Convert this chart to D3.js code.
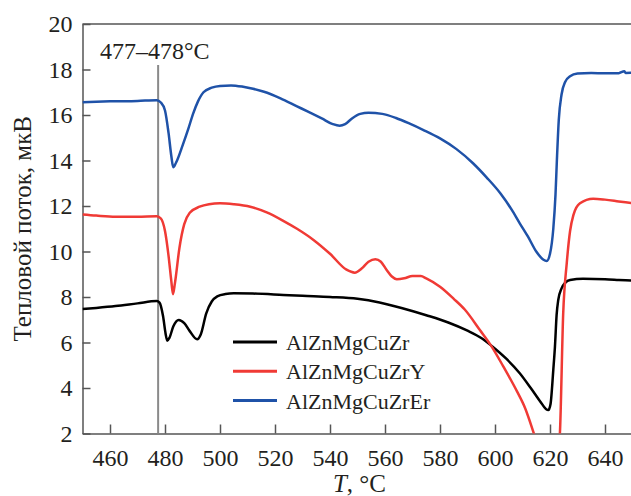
<!DOCTYPE html>
<html>
<head>
<meta charset="utf-8">
<script src="https://cdn.jsdelivr.net/npm/d3@7"></script>
<style>
  body { margin: 0; background: #fff; }
  svg { font-family: "Liberation Serif", "DejaVu Serif", serif; }
  .axis path, .axis line { stroke: #555; stroke-width: 1.5; }
  .axis text { fill: #231f20; font-size: 24px; font-family: "Liberation Serif", "DejaVu Serif", serif; }
</style>
</head>
<body>
<div id="chart"></div>
<script>
// series: [T, signal]
const seriesNames = ["AlZnMgCuZr", "AlZnMgCuZrY", "AlZnMgCuZrEr"];
const seriesColors = ["#000000", "#f03a35", "#1f52a8"];

const zr = [
  [450, 7.47], [455, 7.52], [462, 7.6], [470, 7.72], [477, 7.82], [478, 7.75],
  [479.3, 7.15], [480.2, 6.4], [480.8, 6.08], [481.6, 6.2], [483, 6.7], [485, 6.99],
  [487, 6.85], [489, 6.5], [491.7, 6.14], [493, 6.35], [495, 7.28], [497, 7.8],
  [499, 8.03], [502, 8.13], [505, 8.16], [512, 8.15], [523, 8.09], [530, 8.05],
  [540, 8.0], [550, 7.92], [558, 7.76], [566, 7.52], [575, 7.2], [583, 6.88],
  [590, 6.52], [595, 6.2], [598.8, 5.85], [604, 5.3], [609, 4.65], [613, 4.0],
  [616.5, 3.4], [618.5, 3.08], [619.4, 3.03], [620.2, 3.3], [621.2, 4.8], [621.8, 5.82],
  [622.4, 7.2], [623, 7.87], [624.2, 8.38], [625.5, 8.62], [627.3, 8.75], [632, 8.8],
  [640, 8.78], [645, 8.75], [650, 8.72]
];

const zrY = [
  [450, 11.63], [455, 11.58], [462, 11.53], [470, 11.53], [477, 11.55], [478.5, 11.45],
  [480, 10.9], [481.3, 9.8], [482.3, 8.7], [482.9, 8.12], [483.6, 8.6], [485.3, 10.2],
  [487, 11.2], [489, 11.7], [492.6, 11.97], [496, 12.08], [500, 12.12], [505, 12.08],
  [511, 11.97], [517, 11.72], [523, 11.35], [528, 11.0], [534, 10.51], [540, 9.9],
  [546, 9.2], [549, 9.07], [551.5, 9.25], [554, 9.55], [556.5, 9.66], [558.5, 9.55],
  [560.6, 9.19], [562.5, 8.9], [564.3, 8.78], [567, 8.82], [570, 8.92], [573, 8.92],
  [575, 8.82], [580, 8.45], [585, 7.92], [589, 7.45], [594.5, 6.55], [598.8, 5.82],
  [603, 4.95], [608, 3.85], [611, 3.1], [614, 2.05], [616, 1.3], [619, 0.5],
  [621, 0.4], [623, 1.2], [623.6, 2.0], [624.8, 7.28], [626.1, 9.5], [627.3, 10.9],
  [628.5, 11.6], [630.9, 12.12], [635.7, 12.32], [640, 12.28], [645, 12.2], [650, 12.12]
];

const zrEr = [
  [450, 16.56], [460, 16.6], [470, 16.62], [477, 16.65], [478.5, 16.55], [480, 16.2],
  [481.3, 15.2], [482.3, 14.2], [483, 13.7], [484, 13.9], [486.5, 14.7], [488.5, 15.4],
  [490.2, 16.05], [492, 16.6], [494, 17.0], [497, 17.2], [500, 17.28], [504, 17.3],
  [508, 17.25], [512, 17.15], [516, 17.02], [522, 16.73], [528, 16.38], [532, 16.15],
  [537, 15.85], [541, 15.6], [543.5, 15.53], [545.5, 15.6], [548, 15.85], [551, 16.05],
  [554, 16.1], [559, 16.05], [564, 15.87], [569, 15.62], [574, 15.34], [580, 14.97],
  [586, 14.5], [592, 13.88], [597, 13.25], [602, 12.55], [606, 11.85], [609, 11.24],
  [612, 10.65], [615, 10.0], [617.5, 9.65], [618.8, 9.58], [620, 9.9], [621.2, 11.0],
  [622, 12.5], [622.5, 14.0], [623.2, 15.8], [624.2, 16.9], [625.5, 17.45], [627.3, 17.7],
  [630, 17.82], [635, 17.85], [640, 17.83], [645, 17.84], [647, 17.92], [647.5, 17.85],
  [650, 17.86]
];

const xTicks = [460, 480, 500, 520, 540, 560, 580, 600, 620, 640];
const yTicks = [2, 4, 6, 8, 10, 12, 14, 16, 18, 20];
const markerT = 477.5;
const markerLabel = "477\u2013478\u00b0C";

const width = 631, height = 496;
const margin = {top: 24, right: -1.5, bottom: 62.5, left: 82.5};

const svg = d3.select("#chart").append("svg")
    .attr("width", width)
    .attr("height", height);

const x = d3.scaleLinear().domain([450, 650]).range([margin.left, width - margin.right]);
const y = d3.scaleLinear().domain([2, 20]).range([height - margin.bottom, margin.top]);

svg.append("defs").append("clipPath")
    .attr("id", "plot-clip")
    .append("rect")
    .attr("x", x(450))
    .attr("y", y(20))
    .attr("width", x(650) - x(450))
    .attr("height", y(2) - y(20));

// frame top line
svg.append("line")
    .attr("x1", x(450)).attr("x2", width)
    .attr("y1", y(20)).attr("y2", y(20))
    .attr("stroke", "#555").attr("stroke-width", 1.5);

// axes with inward ticks
svg.append("g")
    .attr("class", "axis")
    .attr("transform", `translate(0, ${y(2)})`)
    .call(d3.axisBottom(x).tickValues(xTicks).tickSizeInner(-9).tickSizeOuter(0).tickPadding(15));

svg.append("g")
    .attr("class", "axis")
    .attr("transform", `translate(${x(450)}, 0)`)
    .call(d3.axisLeft(y).tickValues(yTicks).tickSizeInner(-8).tickSizeOuter(0).tickPadding(10));

// marker line
svg.append("line")
    .attr("x1", x(markerT)).attr("x2", x(markerT))
    .attr("y1", 65).attr("y2", y(2))
    .attr("stroke", "#8a8a8a").attr("stroke-width", 2);

svg.append("text")
    .attr("x", 100)
    .attr("y", 59)
    .attr("font-size", 24)
    .attr("fill", "#231f20")
    .text(markerLabel);

// curves
const line = d3.line()
    .x(d => x(d[0]))
    .y(d => y(d[1]))
    .curve(d3.curveMonotoneX);

const allSeries = [zr, zrY, zrEr];
svg.append("g")
    .attr("clip-path", "url(#plot-clip)")
    .selectAll("path")
    .data(allSeries)
    .enter()
    .append("path")
    .attr("d", line)
    .attr("fill", "none")
    .attr("stroke", (d, i) => seriesColors[i])
    .attr("stroke-width", 2.5)
    .attr("stroke-linejoin", "round");

// legend
const legend = svg.append("g").attr("transform", "translate(233, 342)");
seriesNames.forEach((name, i) => {
    legend.append("line")
        .attr("x1", 0).attr("x2", 44)
        .attr("y1", i * 29.3).attr("y2", i * 29.3)
        .attr("stroke", seriesColors[i])
        .attr("stroke-width", 3);
    legend.append("text")
        .attr("x", 53)
        .attr("y", i * 29.3 + 8)
        .attr("font-size", 22)
        .attr("fill", "#231f20")
        .text(name);
});

// axis titles
svg.append("text")
    .attr("transform", `translate(31, ${(y(2) + y(20)) / 2}) rotate(-90)`)
    .attr("text-anchor", "middle")
    .attr("font-size", 25)
    .attr("fill", "#231f20")
    .text("Тепловой поток, мкВ");

const xt = svg.append("text")
    .attr("x", (x(450) + x(650)) / 2 + 2)
    .attr("y", 492)
    .attr("text-anchor", "middle")
    .attr("font-size", 25)
    .attr("fill", "#231f20");
xt.append("tspan").attr("font-style", "italic").text("T");
xt.append("tspan").text(", \u00b0C");
</script>
</body>
</html>
